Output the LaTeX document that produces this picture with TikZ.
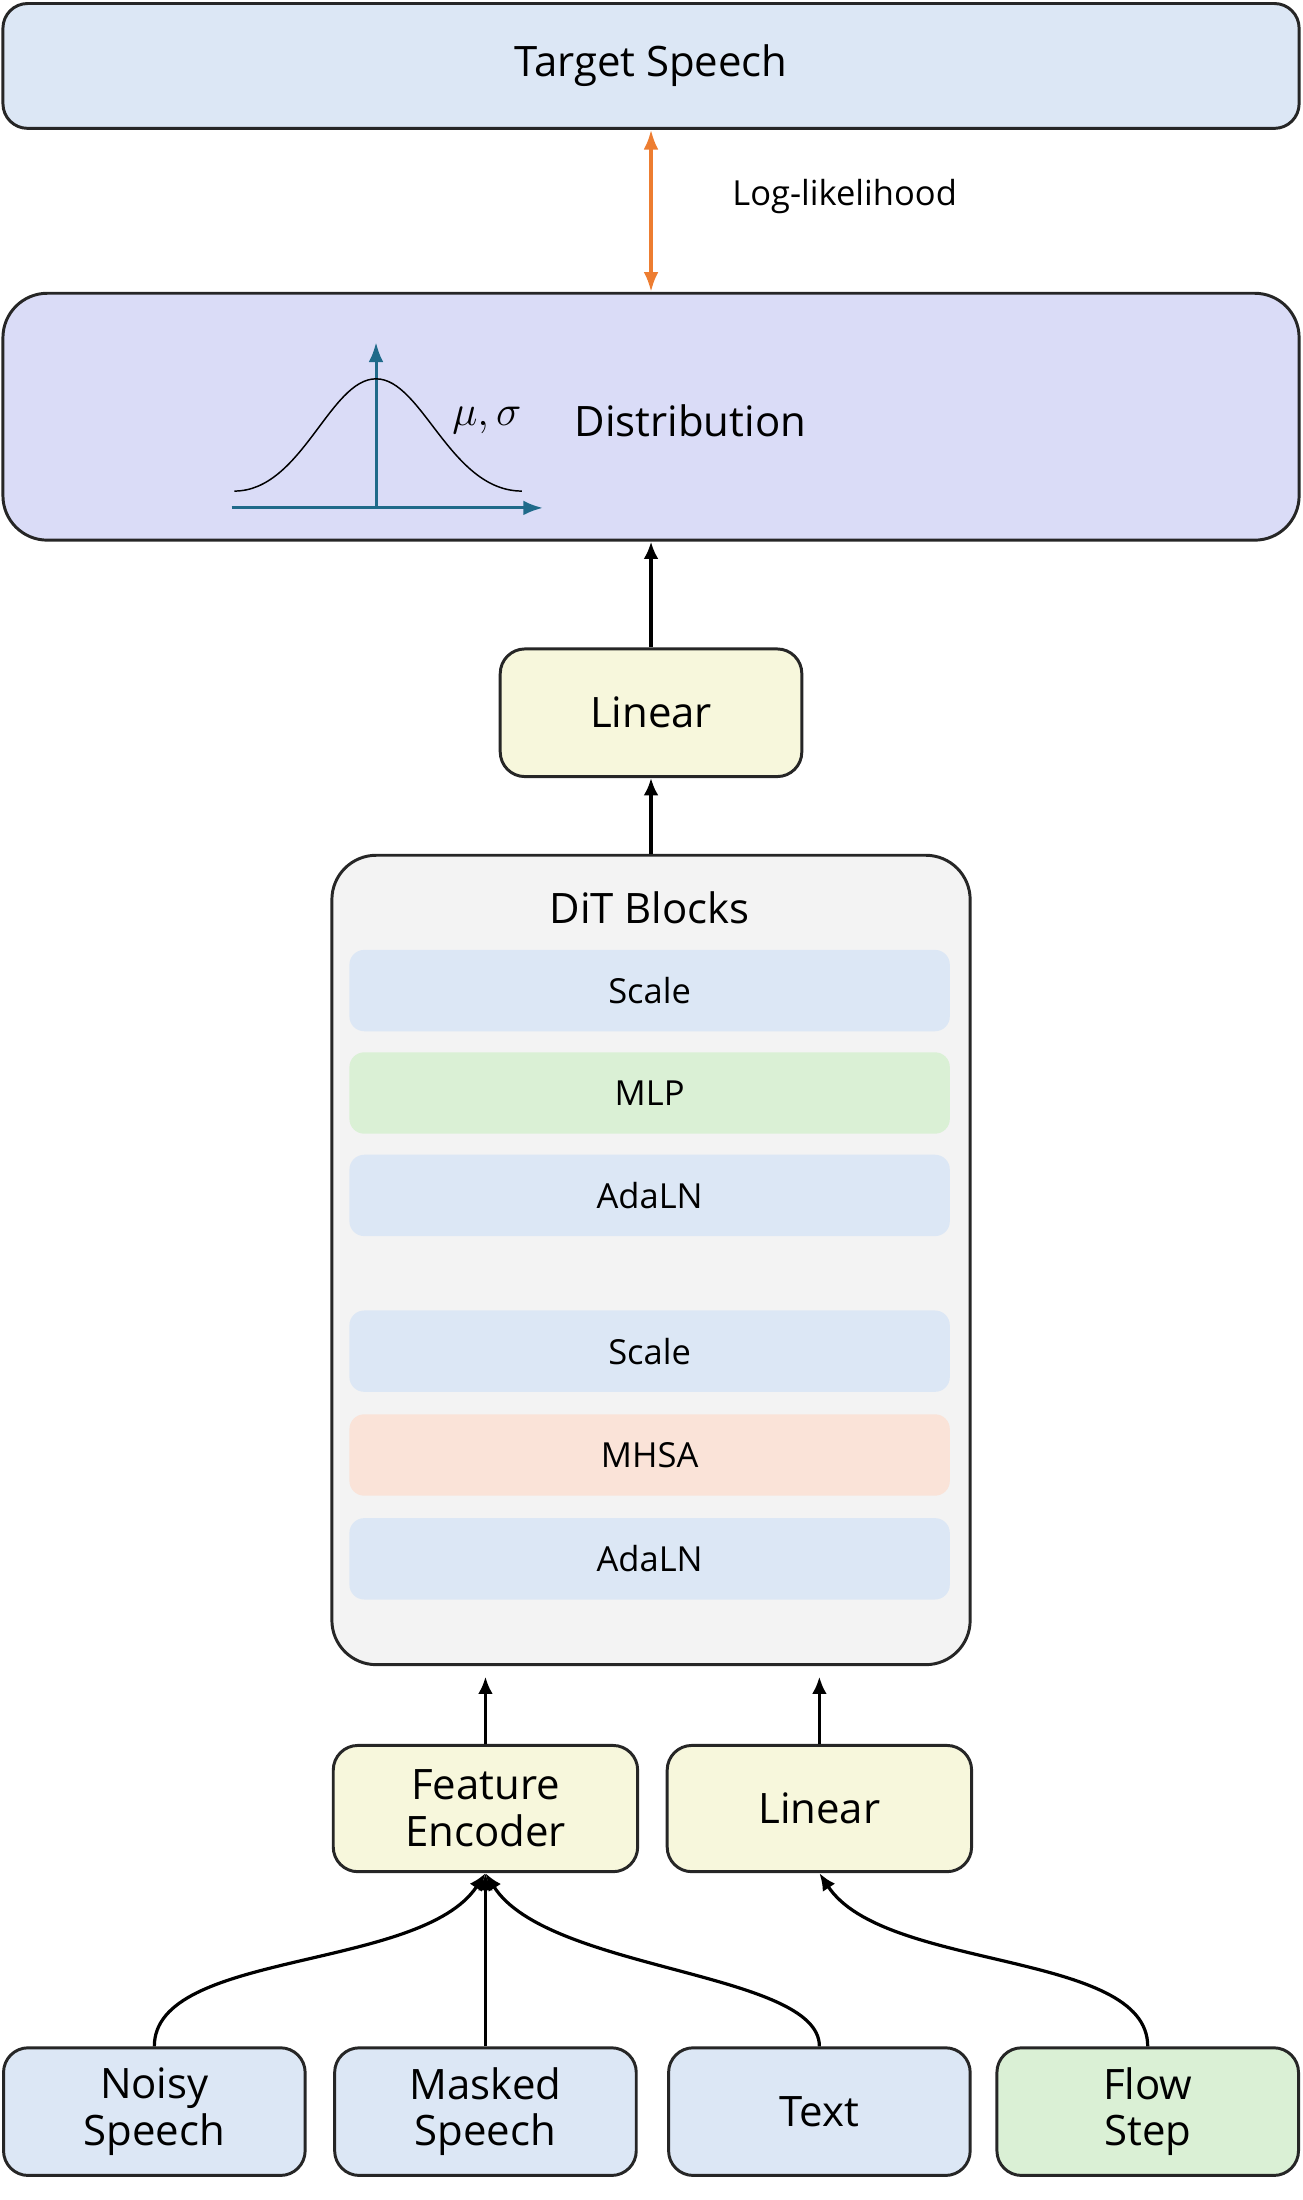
\documentclass[tikz,border=0pt]{standalone}
\usepackage{fontspec}
\setmainfont{Open Sans}
\usetikzlibrary{arrows.meta,positioning}
\definecolor{boxblue}{HTML}{DCE7F5}
\definecolor{boxlav}{HTML}{DADCF7}
\definecolor{boxyel}{HTML}{F7F7DC}
\definecolor{boxgrey}{HTML}{F3F3F3}
\definecolor{boxgreen}{HTML}{DAF0D5}
\definecolor{boxpeach}{HTML}{FAE3D8}
\definecolor{axisteal}{HTML}{1F6A8A}
\definecolor{llorange}{HTML}{ED7D31}
\tikzset{
  block/.style={draw=black!85, line width=1.2pt, rounded corners=10pt, align=center,
    font=\fontsize{17}{19}\selectfont, inner sep=0pt},
  bar/.style={rounded corners=6pt, minimum width=8.56cm, minimum height=1.16cm,
    font=\fontsize{14}{16}\selectfont, inner sep=0pt},
  arr/.style={-{Latex[length=7pt,width=6pt]}, line width=1.3pt}
}
\begin{document}
\begin{tikzpicture}[x=0.02cm,y=-0.02cm]
\useasboundingbox (0,0) rectangle (928,1568);
% top
\node[block, fill=boxblue, minimum width=18.48cm, minimum height=1.78cm] (target) at (464,47) {Target Speech};
\node[block, fill=boxlav, rounded corners=18pt, minimum width=18.48cm, minimum height=3.52cm] (dist) at (464,297) {};
\node[font=\fontsize{17}{19}\selectfont] (distlbl) at (492,300) {Distribution};
\node[font=\fontsize{18}{20}\selectfont] (musig) at (347,300) {$\mu,\sigma$};
\draw[{Latex[length=8pt]}-{Latex[length=8pt]}, llorange, line width=1.3pt] (target.south) -- (dist.north);
\node[font=\fontsize{14}{16}\selectfont] (ll) at (602,140) {Log-likelihood};
% gaussian
\draw[axisteal, line width=1.2pt, -{Latex[length=8pt]}] (165,362) -- (387,362);
\draw[axisteal, line width=1.2pt, -{Latex[length=8pt]}] (268,362) -- (268,244);
\draw[black, line width=0.6pt] (167,350) .. controls (215,350) and (235,270) .. (268,270)
  .. controls (301,270) and (321,350) .. (372,350);
% middle
\node[block, fill=boxyel, minimum width=4.3cm, minimum height=1.82cm] (lin) at (464,508) {Linear};
\node[block, fill=boxgrey, rounded corners=18pt, minimum width=9.1cm, minimum height=11.54cm] (dit) at (464,898) {};
\node[font=\fontsize{17}{19}\selectfont] (dittitle) at (463,647) {DiT Blocks};
\node[bar, fill=boxblue] (scale1) at (463,706) {Scale};
\node[bar, fill=boxgreen] (mlp) at (463,779) {MLP};
\node[bar, fill=boxblue] (ada1) at (463,852) {AdaLN};
\node[bar, fill=boxblue] (scale2) at (463,963) {Scale};
\node[bar, fill=boxpeach] (mhsa) at (463,1037) {MHSA};
\node[bar, fill=boxblue] (ada2) at (463,1111) {AdaLN};
\draw[arr] (lin.north) -- (dist.south);
\draw[arr] (dit.north -| lin.south) -- (lin.south);
% encoders
\node[block, fill=boxyel, minimum width=4.34cm, minimum height=1.8cm] (enc) at (346,1289) {Feature\\Encoder};
\node[block, fill=boxyel, minimum width=4.34cm, minimum height=1.8cm] (steplin) at (584,1289) {Linear};
\coordinate (encin) at (346,1195);
\coordinate (stepin) at (584,1195);
\draw[arr] (enc.north) -- (encin);
\draw[arr] (steplin.north) -- (stepin);
% inputs
\node[block, fill=boxblue, minimum width=4.3cm, minimum height=1.82cm] (noisy) at (110,1505) {Noisy\\Speech};
\node[block, fill=boxblue, minimum width=4.3cm, minimum height=1.82cm] (masked) at (346,1505) {Masked\\Speech};
\node[block, fill=boxblue, minimum width=4.3cm, minimum height=1.82cm] (text) at (584,1505) {Text};
\node[block, fill=boxgreen, minimum width=4.3cm, minimum height=1.82cm] (flow) at (818,1505) {Flow\\Step};
\draw[arr] (noisy.north) .. controls (110,1390) and (300,1405) .. (enc.south);
\draw[arr] (masked.north) -- (enc.south);
\draw[arr] (text.north) .. controls (584,1405) and (390,1405) .. (enc.south);
\draw[arr] (flow.north) .. controls (818,1390) and (630,1405) .. (steplin.south);
\end{tikzpicture}
\end{document}
